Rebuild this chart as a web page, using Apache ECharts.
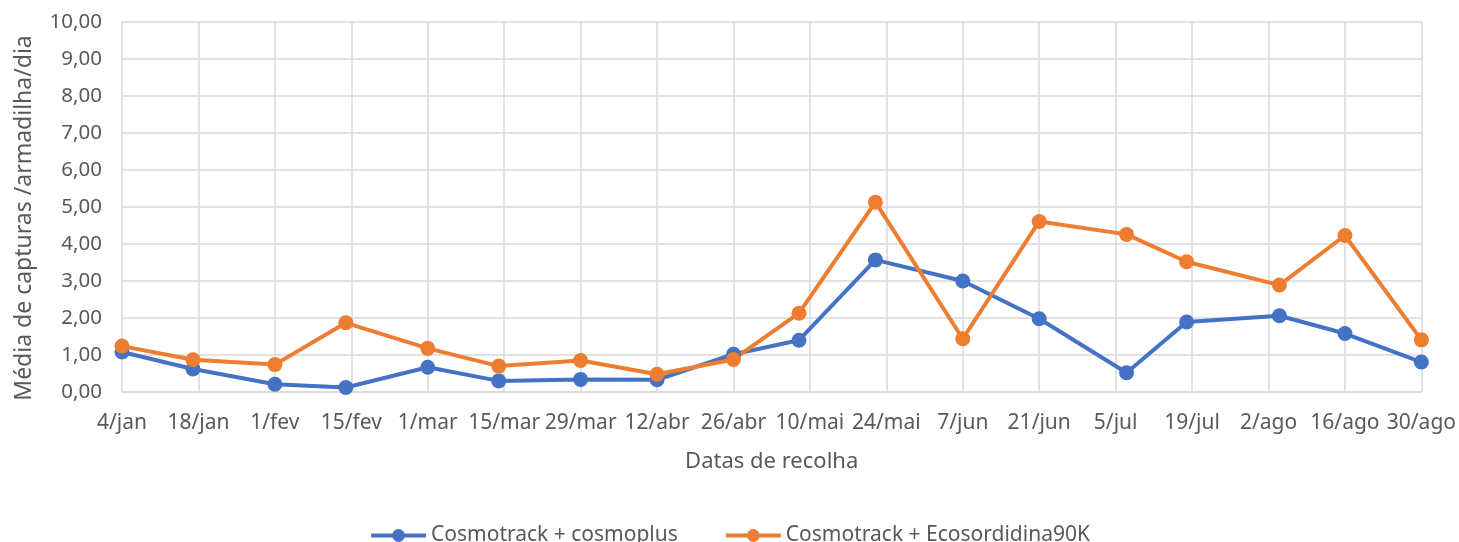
<!DOCTYPE html>
<html><head><meta charset="utf-8">
<script src="https://cdn.jsdelivr.net/npm/echarts@6/dist/echarts.min.js"></script>
<style>html,body{margin:0;padding:0;background:#fff}#c{width:1459px;height:542px}</style>
</head><body><div id="c"></div>
<script>
// x positions in days since 4/jan (points sit on actual sampling dates)
const sampleDays = [0, 13, 28, 41, 56, 69, 84, 98, 112, 124, 138, 154, 168, 184, 195, 212, 224, 238];
const tickLabels = ['4/jan','18/jan','1/fev','15/fev','1/mar','15/mar','29/mar','12/abr','26/abr','10/mai','24/mai','7/jun','21/jun','5/jul','19/jul','2/ago','16/ago','30/ago'];
const cosmoplus = [1.08, 0.62, 0.21, 0.12, 0.67, 0.30, 0.34, 0.33, 1.02, 1.40, 3.57, 3.00, 1.98, 0.52, 1.89, 2.06, 1.58, 0.81];
const ecosordidina = [1.24, 0.87, 0.74, 1.87, 1.18, 0.70, 0.85, 0.48, 0.88, 2.13, 5.13, 1.44, 4.61, 4.26, 3.52, 2.89, 4.23, 1.41];
const seriesNames = ['Cosmotrack + cosmoplus', 'Cosmotrack + Ecosordidina90K'];

const font = 'Noto Sans';
const chart = echarts.init(document.getElementById('c'));
function mk(name, vals, color) {
  return {
    name, type: 'line', data: sampleDays.map((d, i) => [d, vals[i]]),
    symbol: 'circle', symbolSize: 15,
    lineStyle: { color, width: 4 }, itemStyle: { color },
    emphasis: { disabled: true }
  };
}
chart.setOption({
  animation: false,
  textStyle: { fontFamily: font },
  grid: { left: 122, right: 35, top: 22, bottom: 150, containLabel: false },
  xAxis: {
    type: 'value', min: 0, max: 238, interval: 14,
    name: 'Datas de recolha', nameLocation: 'middle', nameGap: 59,
    nameTextStyle: { fontSize: 22, color: '#595959', fontFamily: font },
    axisLine: { show: true, lineStyle: { color: '#d9d9d9', width: 1.5 } },
    axisTick: { show: false },
    axisLabel: { fontSize: 21, color: '#595959', margin: 21, fontFamily: font,
      formatter: v => tickLabels[Math.round(v / 14)] },
    splitLine: { show: true, lineStyle: { color: '#d9d9d9', width: 1.5 } }
  },
  yAxis: {
    type: 'value', min: 0, max: 10, interval: 1,
    name: 'Média de capturas /armadilha/dia', nameLocation: 'middle', nameGap: 86,
    nameTextStyle: { fontSize: 23, color: '#595959', fontFamily: font, padding: [0, 22, 0, 0] },
    axisLine: { show: false }, axisTick: { show: false },
    axisLabel: { fontSize: 20.5, color: '#595959', margin: 20, fontFamily: font,
      formatter: v => v.toFixed(2).replace('.', ',') },
    splitLine: { show: true, lineStyle: { color: '#d9d9d9', width: 1.5 } }
  },
  legend: {
    data: seriesNames, top: 520, left: 'center', itemWidth: 55, itemHeight: 16, itemGap: 46,
    lineStyle: { width: 4 },
    textStyle: { fontSize: 21, color: '#595959', fontFamily: font }
  },
  series: [mk(seriesNames[0], cosmoplus, '#4472C4'), mk(seriesNames[1], ecosordidina, '#ED7D31')]
});
</script></body></html>
